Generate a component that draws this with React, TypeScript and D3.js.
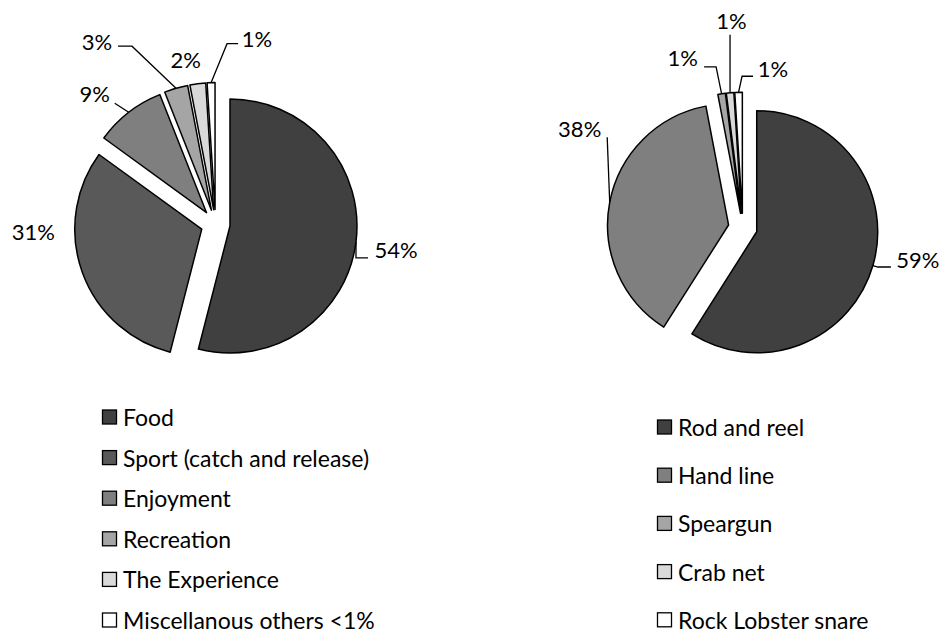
import * as d3 from 'd3';

// left pie: reasons for fishing
const reasonLabels = ['Food', 'Sport (catch and release)', 'Enjoyment', 'Recreation', 'The Experience', 'Miscellanous others <1%'];
const reasonValues = [54, 31, 9, 3, 2, 1];
const reasonColors = ['#404040', '#595959', '#7f7f7f', '#a5a5a5', '#d9d9d9', '#ffffff'];

// right pie: fishing method
const methodLabels = ['Rod and reel', 'Hand line', 'Speargun', 'Crab net', 'Rock Lobster snare'];
const methodValues = [59, 38, 1, 1, 1];
const methodColors = ['#404040', '#7f7f7f', '#a5a5a5', '#d9d9d9', '#ffffff'];

const FONT = 'Lato, "Open Sans", sans-serif';

type LabelLayout = { dx: number; dy: number; leader: [number, number][] };

// label placement relative to the outer mid point of each slice
const reasonLayout: LabelLayout[] = [
  { dx: 40, dy: 8, leader: [[0, 16], [12, 16]] },
  { dx: -49, dy: -41, leader: [] },
  { dx: -34, dy: -19, leader: [[-14, -9]] },
  { dx: -79, dy: -47, leader: [[-44, -42], [-58, -42]] },
  { dx: -12, dy: -24, leader: [] },
  { dx: 46, dy: -44, leader: [[16, -39], [27, -39]] }
];
const methodLayout: LabelLayout[] = [
  { dx: 45, dy: -6, leader: [[5, 1.5], [18, 1.5]] },
  { dx: -30, dy: -74, leader: [[-2.5, -65]] },
  { dx: -39, dy: -36, leader: [[-5.5, -27], [-17.5, -27]] },
  { dx: 1.5, dy: -72, leader: [[0, -58]] },
  { dx: 34.5, dy: -24, leader: [[3.5, -16], [14.5, -16]] }
];

type PieProps = {
  values: number[];
  colors: string[];
  layout: LabelLayout[];
  cx: number;
  cy: number;
  r: number;
  explode: number;
};

function Pie({ values, colors, layout, cx, cy, r, explode }: PieProps) {
  const total = d3.sum(values);
  const arcs = d3.pie<number>().sort(null).startAngle(0).endAngle(2 * Math.PI)(values);
  const arcGen = d3.arc<d3.PieArcDatum<number>>().innerRadius(0).outerRadius(r);
  return (
    <g>
      {arcs.map((a, i) => {
        const mid = (a.startAngle + a.endAngle) / 2;
        const ux = Math.sin(mid);
        const uy = -Math.cos(mid);
        const ox = cx + explode * ux;
        const oy = cy + explode * uy;
        const ax = ox + r * ux;
        const ay = oy + r * uy;
        const lay = layout[i];
        const pts: [number, number][] = [[ax, ay], ...lay.leader.map(([x, y]) => [ax + x, ay + y] as [number, number])];
        return (
          <g key={i}>
            <path
              d={arcGen(a) || ''}
              transform={`translate(${ox},${oy})`}
              fill={colors[i]}
              stroke="#000"
              strokeWidth={1.5}
              strokeLinejoin="round"
            />
            {lay.leader.length > 0 && (
              <path d={d3.line()(pts) || ''} fill="none" stroke="#000" strokeWidth={1.3} />
            )}
            <text
              x={ax + lay.dx}
              y={ay + lay.dy}
              textAnchor="middle"
              dominantBaseline="central"
              fontFamily={FONT}
              fontSize={22}
              fill="#000"
            >
              {`${Math.round((values[i] / total) * 100)}%`}
            </text>
          </g>
        );
      })}
    </g>
  );
}

type LegendProps = { labels: string[]; colors: string[]; x: number; y: number; step: number };

function Legend({ labels, colors, x, y, step }: LegendProps) {
  return (
    <g>
      {labels.map((l, i) => (
        <g key={l} transform={`translate(${x},${y + i * step})`}>
          <rect x={0.5} y={-7} width={14} height={14} fill={colors[i]} stroke="#000" strokeWidth={1.3} />
          <text x={21} y={0} dominantBaseline="central" fontFamily={FONT} fontSize={23} fill="#000">
            {l}
          </text>
        </g>
      ))}
    </g>
  );
}

export default function App() {
  const width = 942;
  const height = 635;
  return (
    <svg
      width={width}
      height={height}
      style={{ position: 'absolute', left: 0, top: 0, background: '#fff' }}
    >
      <Pie values={reasonValues} colors={reasonColors} layout={reasonLayout} cx={215.5} cy={224.2} r={127} explode={14.6} />
      <Pie values={methodValues} colors={methodColors} layout={methodLayout} cx={742.8} cy={227.7} r={121} explode={14.5} />
      <Legend labels={reasonLabels} colors={reasonColors} x={102} y={417} step={40.6} />
      <Legend labels={methodLabels} colors={methodColors} x={657} y={427} step={48.2} />
    </svg>
  );
}
